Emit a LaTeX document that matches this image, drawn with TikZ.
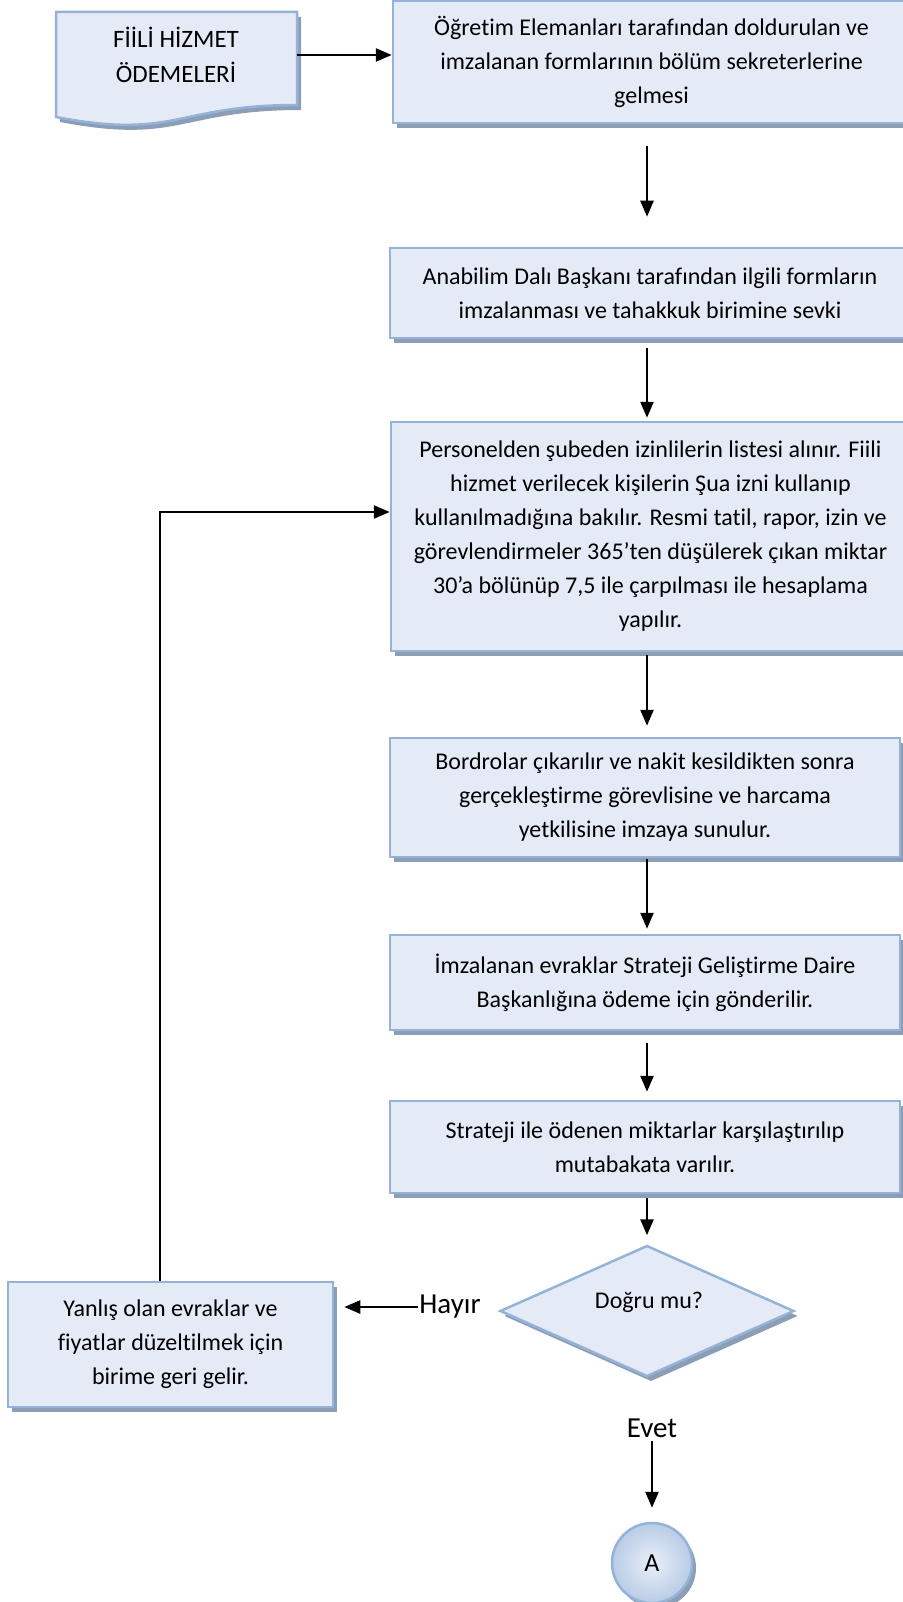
\documentclass[tikz,border=0pt]{standalone}
\usepackage{fontspec}
\setmainfont{Carlito}[Ligatures=NoCommon]
\usetikzlibrary{shapes.geometric,arrows.meta,shadows}
\definecolor{boxfill}{RGB}{228,235,247}
\definecolor{boxline}{RGB}{149,179,215}
\definecolor{boxshade}{RGB}{140,158,182}
\begin{document}
\begin{tikzpicture}[x=1pt,y=-1pt,
  font=\fontsize{24}{34}\selectfont,
  process/.style={draw=boxline, line width=2.5pt, fill=boxfill, align=center,
    drop shadow={shadow xshift=4pt, shadow yshift=-5pt, fill=boxshade, opacity=1}},
  decision/.style={process, diamond, inner sep=0pt},
  connector/.style={process, circle, inner color=boxfill!80!white, outer color=boxline!55!boxfill},
  answer/.style={font=\fontsize{29}{34}\selectfont},
  flow/.style={line width=2.5pt, -{Triangle[length=16pt,width=13pt]}}]
\useasboundingbox (0,0) rectangle (902,1602);

\draw[process] (56,12) -- (297,12) -- (297,105) .. controls (176,105) and (176,140) .. (56,117) -- cycle;
\node[align=center, minimum width=241pt, font=\fontsize{25}{35}\selectfont] (doc) at (176,55) {FİİLİ HİZMET\\ÖDEMELERİ};

\node[process, minimum width=517pt, minimum height=122pt] (b1) at (651.5,62) {Öğretim Elemanları tarafından doldurulan ve\\imzalanan formlarının bölüm sekreterlerine\\gelmesi};
\node[process, minimum width=520pt, minimum height=90pt] (b2) at (650,293) {Anabilim Dalı Başkanı tarafından ilgili formların\\imzalanması ve tahakkuk birimine sevki};
\node[process, minimum width=519pt, minimum height=229pt] (b3) at (650.5,536.5) {Personelden şubeden izinlilerin listesi alınır. Fiili\\hizmet verilecek kişilerin Şua izni kullanıp\\kullanılmadığına bakılır. Resmi tatil, rapor, izin ve\\görevlendirmeler 365’ten düşülerek çıkan miktar\\30’a bölünüp 7,5 ile çarpılması ile hesaplama\\yapılır.};
\node[process, minimum width=510pt, minimum height=119pt] (b4) at (645,797.5) {Bordrolar çıkarılır ve nakit kesildikten sonra\\gerçekleştirme görevlisine ve harcama\\yetkilisine imzaya sunulur.};
\node[process, minimum width=510pt, minimum height=95pt] (b5) at (645,982.5) {İmzalanan evraklar Strateji Geliştirme Daire\\Başkanlığına ödeme için gönderilir.};
\node[process, minimum width=510pt, minimum height=92pt] (b6) at (645,1147) {Strateji ile ödenen miktarlar karşılaştırılıp\\mutabakata varılır.};
\node[decision, minimum width=294pt, minimum height=131pt] (dia) at (647,1311) {};
\node (q) at (649,1302) {Doğru mu?};
\node[process, minimum width=325pt, minimum height=125pt] (b7) at (170.5,1344.5) {Yanlış olan evraklar ve\\fiyatlar düzeltilmek için\\birime geri gelir.};
\node[answer, inner sep=1pt] (hayir) at (450,1307) {Hayır};
\node[answer] (evet) at (652,1428) {Evet};
\node[connector, minimum size=80pt, font=\fontsize{26}{34}\selectfont] (A) at (652,1563) {A};

\draw[flow] (doc.east) -- (doc.east -| b1.west);
\draw[flow, shorten <=22pt, shorten >=30pt] (b1.south -| dia) -- (b2.north -| dia);
\draw[flow, shorten <=9pt, shorten >=3pt] (b2.south -| dia) -- (b3.north -| dia);
\draw[flow, shorten <=3pt, shorten >=11pt] (b3.south -| dia) -- (b4.north -| dia);
\draw[flow, shorten <=1pt, shorten >=5pt] (b4.south -| dia) -- (b5.north -| dia);
\draw[flow, shorten <=12pt, shorten >=8pt] (b5.south -| dia) -- (b6.north -| dia);
\draw[flow, shorten <=4pt, shorten >=9pt] (b6.south -| dia) -- (dia.north);
\draw[flow, shorten >=10pt] (hayir.west) -- (hayir.west -| b7.east);
\draw[flow, shorten >=14pt] (evet.south) -- (A.north);
\draw[flow] ([xshift=-10.5pt]b7.north) |- ([yshift=24.5pt]b3.west);
\end{tikzpicture}
\end{document}
